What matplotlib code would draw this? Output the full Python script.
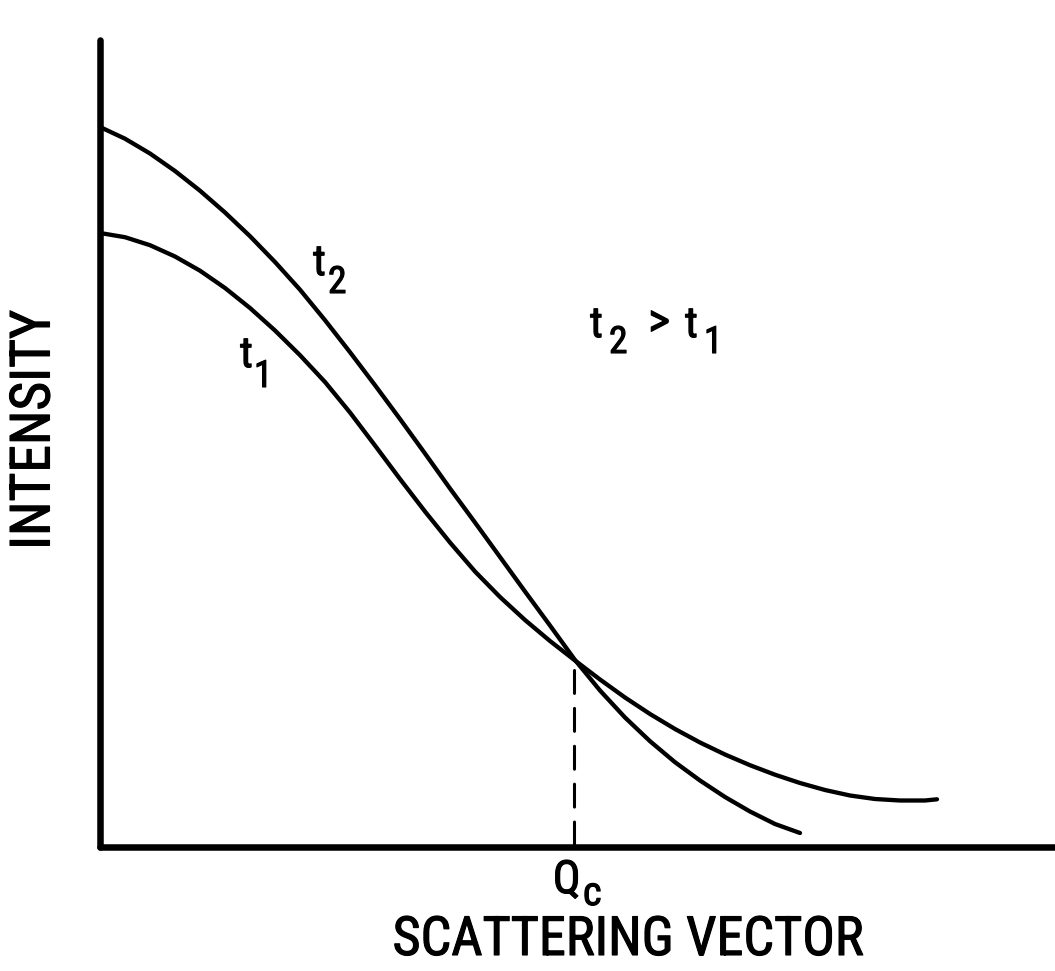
import matplotlib
matplotlib.use("Agg")
import matplotlib.pyplot as plt
import matplotlib.patheffects as pe

# intensity profiles (arbitrary units) read along the scattering vector
q_t1 = [0, 25, 50, 75, 100, 125, 150, 175, 200, 225, 250, 275, 300, 325, 350,
        375, 400, 425, 450, 475, 500, 525, 550, 575, 600, 625, 650, 675, 700,
        725, 750, 775, 800, 825, 837]
i_t1 = [614, 609.8, 601.8, 590.5, 576.3, 559, 539, 516.5, 491.8, 465, 434.5,
        401.5, 368, 335.5, 304.5, 275.5, 250, 227, 206, 186.5, 167.5, 149.5,
        133, 118, 104.5, 92.5, 81.8, 72.3, 64, 57, 51.5, 48, 46.5, 46.5, 47.7]

q_t2 = [0, 25, 50, 75, 100, 125, 150, 175, 200, 225, 250, 275, 300, 325, 350,
        375, 400, 425, 450, 475, 500, 525, 550, 575, 600, 625, 650, 675, 700]
i_t2 = [720, 708.3, 693.5, 676, 656.3, 634.5, 610.8, 585, 557.3, 526.8, 494.8,
        461.8, 428, 393.5, 358.5, 324.5, 290, 255.5, 221.5, 187, 156.5, 129.5,
        105.8, 84.8, 66.5, 50, 35.5, 23, 14]

# crossover point of the two curves
q_c = 474
i_c = 177

FONT = ['Liberation Sans Narrow', 'Roboto Condensed', 'Open Sans Condensed',
        'Liberation Sans']
BOLD = [pe.withStroke(linewidth=0.8, foreground='black')]

fig = plt.figure(figsize=(10.55, 9.71), dpi=100)
W, H = 1055, 971
ax = fig.add_axes([100 / W, (H - 847) / H, (W - 100) / W, 807 / H])
ax.set_xlim(0, 955)
ax.set_ylim(0, 807)

for side in ['top', 'right']:
    ax.spines[side].set_visible(False)
for side in ['left', 'bottom']:
    ax.spines[side].set_linewidth(4.7)
    ax.spines[side].set_capstyle('round')
ax.set_xticks([])
ax.set_yticks([])

ax.plot(q_t1, i_t1, color='black', lw=3.1, solid_capstyle='round',
        solid_joinstyle='round', clip_on=False)
ax.plot(q_t2, i_t2, color='black', lw=3.1, solid_capstyle='round',
        solid_joinstyle='round', clip_on=False)

# dashed drop line from the crossover to the axis
ax.plot([q_c, q_c], [i_c, 0], color='black', lw=2.2,
        linestyle=(0, (7.5, 4.9)), dash_capstyle='round')


def txt(x, y, s, size, **kw):
    kw.setdefault('ha', 'left')
    kw.setdefault('va', 'baseline')
    return ax.text(x, y, s, fontsize=size, family=FONT, clip_on=False,
                   path_effects=BOLD, **kw)


def sub_label(x, y, base, sub, size=31, sub_size=27, dx=15, dy=-18):
    txt(x, y, base, size)
    txt(x + dx, y + dy, sub, sub_size)


sub_label(213, 572, 't', '2')
sub_label(140, 480, 't', '1', dx=14, dy=-20)

# t2 > t1 annotation
sub_label(490, 510, 't', '2', dx=19, dy=-16)
txt(559, 524, '>', 34, ha='center', va='center')
sub_label(585, 510, 't', '1', dx=19, dy=-16)

# Qc marker under the axis
sub_label(453, -46, 'Q', 'c', size=33, sub_size=29, dx=30, dy=-12)

txt(528, -108, 'SCATTERING VECTOR', 39, ha='center')
txt(-66, 417, 'INTENSITY', 40, rotation=90, ha='center', va='center')

fig.savefig('out.png', dpi=100, facecolor='white')
